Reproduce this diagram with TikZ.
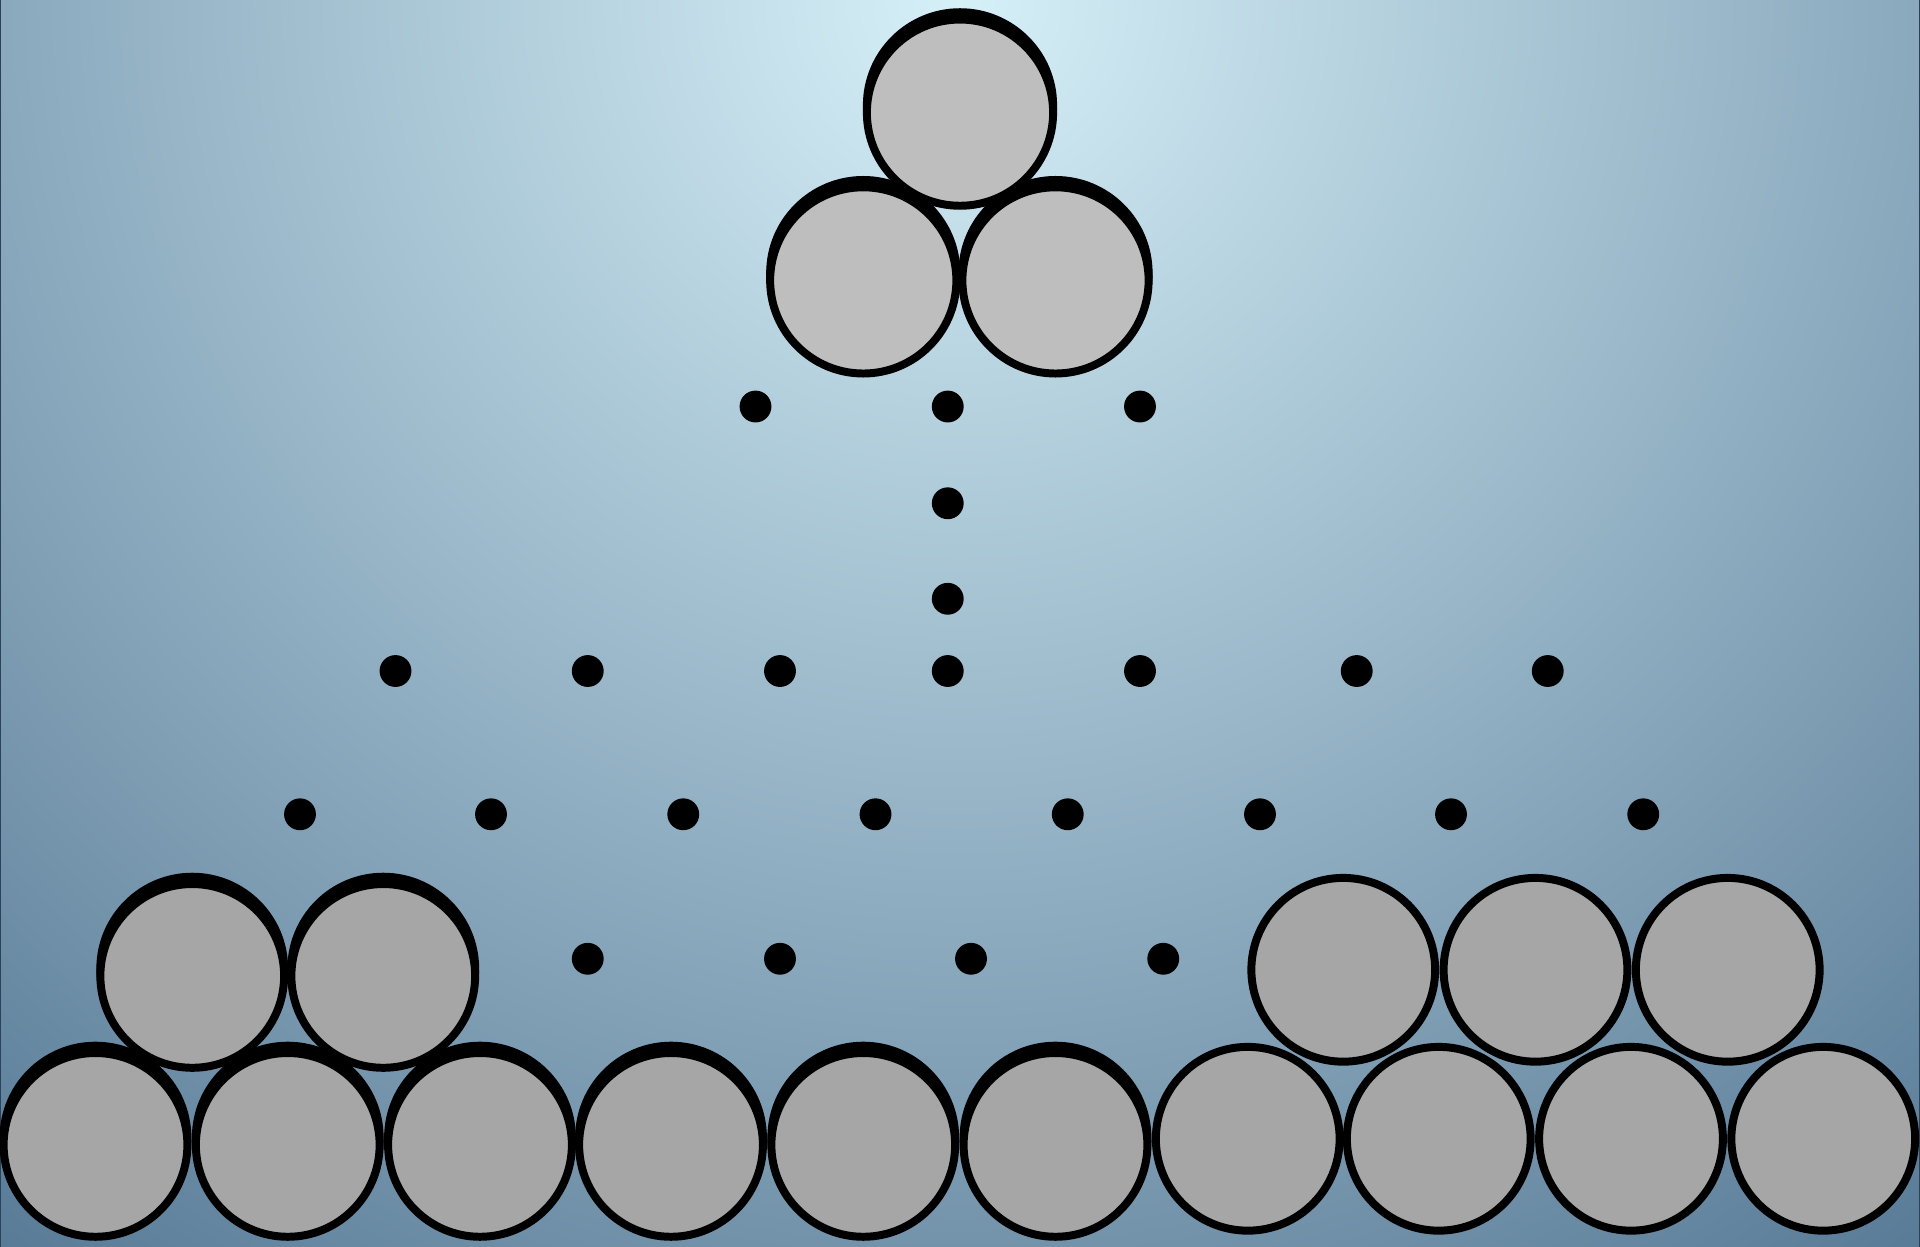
\documentclass[tikz,border=0pt]{standalone}
\usepackage{tikz}
\usepackage{xcolor}
\usetikzlibrary{shadows}
\definecolor{ballhigh}{RGB}{190, 190, 190}
\definecolor{balllow}{RGB}{166, 166, 166}
\definecolor{skyglow}{RGB}{214, 240, 248}
\definecolor{skydeep}{RGB}{83, 117, 146}
\definecolor{frameedge}{RGB}{43, 66, 89}

\begin{document}
\begin{tikzpicture}[
    x=0.01cm, y=-0.01cm,
    ball/.style={circle, draw=black, line width=1.85pt, fill=#1, minimum size=1.50cm, inner sep=0pt},
    ball/.default=balllow,
    lifted/.style={drop shadow={shadow xshift=0pt, shadow yshift=1.7pt, opacity=1, fill=black, draw=black, line width=1.85pt}},
    dot/.style={circle, fill=black, minimum size=0.26cm, inner sep=0pt}
]

    % ==========================================
    % FRAME & BACKGROUND
    % ==========================================
    \coordinate (frame_tl) at (0, 0);
    \coordinate (frame_br) at (1568, 1018);
    \coordinate (frame_bl) at (0, 1018);
    \coordinate (frame_tr) at (1568, 0);
    \coordinate (glow) at (784, 0);

    \useasboundingbox (frame_tl) rectangle (frame_br);
    \begin{scope}
        \clip (frame_tl) rectangle (frame_br);
        \shade[inner color=skyglow, outer color=skydeep] (glow) circle (13.5cm);
    \end{scope}
    \draw[frameedge, line width=0.6pt] (frame_tl) -- (frame_bl);
    \draw[frameedge, line width=0.6pt] (frame_tr) -- (frame_br);


    % ==========================================
    % BOTTOM ROW
    % ==========================================
    \node[ball, lifted] (ball_b1) at (78, 935) {};
    \node[ball, lifted] (ball_b2) at (235, 935) {};
    \node[ball, lifted] (ball_b3) at (392, 935) {};
    \node[ball, lifted] (ball_b4) at (548, 935) {};
    \node[ball, lifted] (ball_b5) at (705, 935) {};
    \node[ball, lifted] (ball_b6) at (862, 935) {};
    \node[ball] (ball_b7)  at (1019, 930) {};
    \node[ball] (ball_b8)  at (1175, 930) {};
    \node[ball] (ball_b9)  at (1332, 930) {};
    \node[ball] (ball_b10) at (1489, 930) {};


    % ==========================================
    % SECOND ROW (left pair, right triple)
    % ==========================================
    \node[ball, lifted] (ball_l1) at (157, 797) {};
    \node[ball, lifted] (ball_l2) at (313, 797) {};

    \node[ball] (ball_r1) at (1097, 792) {};
    \node[ball] (ball_r2) at (1254, 792) {};
    \node[ball] (ball_r3) at (1411, 792) {};


    % ==========================================
    % TOP GROUP
    % ==========================================
    \node[ball=ballhigh, lifted, minimum size=1.52cm] (ball_t1) at (705, 229) {};
    \node[ball=ballhigh, lifted, minimum size=1.52cm] (ball_t2) at (862, 229) {};
    \node[ball=ballhigh, lifted, minimum size=1.52cm] (ball_apex) at (784, 92) {};


    % ==========================================
    % DOTS
    % ==========================================
    % Under the top group
    \node[dot] (dot_a1) at (617, 332) {};
    \node[dot] (dot_a2) at (774, 332) {};
    \node[dot] (dot_a3) at (931, 332) {};

    % Stem
    \node[dot] (dot_s1) at (774, 411) {};
    \node[dot] (dot_s2) at (774, 489) {};

    % Wide row
    \node[dot] (dot_w1) at (323, 548) {};
    \node[dot] (dot_w2) at (480, 548) {};
    \node[dot] (dot_w3) at (637, 548) {};
    \node[dot] (dot_w4) at (774, 548) {};
    \node[dot] (dot_w5) at (931, 548) {};
    \node[dot] (dot_w6) at (1108, 548) {};
    \node[dot] (dot_w7) at (1264, 548) {};

    % Full row
    \node[dot] (dot_f1) at (245, 665) {};
    \node[dot] (dot_f2) at (401, 665) {};
    \node[dot] (dot_f3) at (558, 665) {};
    \node[dot] (dot_f4) at (715, 665) {};
    \node[dot] (dot_f5) at (872, 665) {};
    \node[dot] (dot_f6) at (1029, 665) {};
    \node[dot] (dot_f7) at (1185, 665) {};
    \node[dot] (dot_f8) at (1342, 665) {};

    % Between the groups
    \node[dot] (dot_g1) at (480, 783) {};
    \node[dot] (dot_g2) at (637, 783) {};
    \node[dot] (dot_g3) at (793, 783) {};
    \node[dot] (dot_g4) at (950, 783) {};

\end{tikzpicture}
\end{document}
